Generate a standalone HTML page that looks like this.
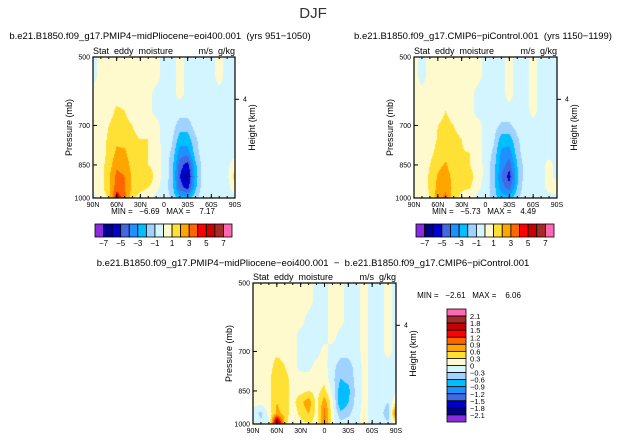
<!DOCTYPE html>
<html><head><meta charset="utf-8">
<style>
body{margin:0;background:#fff;width:627px;height:442px;overflow:hidden;font-family:"Liberation Sans",sans-serif;}
svg text{font-family:"Liberation Sans",sans-serif;fill:#000;white-space:pre;}
</style></head>
<body>
<svg id="fig" width="627" height="442" xmlns="http://www.w3.org/2000/svg">
<text x="313" y="18" font-size="15" text-anchor="middle" style="fill:#333">DJF</text>
</svg>
<script>
const lats=["90N","80N","70N","60N","50N","40N","30N","20N","10N","0","10S","20S","30S","40S","50S","60S","70S","80S","90S"];
const levels=[500,550,600,650,700,750,800,850,900,950,1000];
const latTicks=["90N","60N","30N","0","30S","60S","90S"];
const pTicks=[500,700,850,1000];
const colors=["#8a2be2","#00008b","#0000cd","#4169e1","#1e90ff","#00bfff","#a0d2ff","#d2f5ff","#fffacd","#ffe135","#ffa500","#ff6600","#ff0000","#c80000","#a52a2a","#ff69b4"];
const edgesA=[-7,-6,-5,-4,-3,-2,-1,0,1,2,3,4,5,6,7];
const edgesB=[-2.1,-1.8,-1.5,-1.2,-0.9,-0.6,-0.3,0,0.3,0.6,0.9,1.2,1.5,1.8,2.1];
const cbLabelsA=["-7","-5","-3","-1","1","3","5","7"];
const cbLabelsB=["2.1","1.8","1.5","1.2","0.9","0.6","0.3","0","-0.3","-0.6","-0.9","-1.2","-1.5","-1.8","-2.1"];
const fieldPlio=[
[-0.3,0.3,0.3,0.3,0.3,0.3,0.3,0.3,0.3,-0.3,-0.3,0.3,-0.3,-0.3,-0.3,-0.3,0.3,-0.3,-0.3],
[-0.3,0.3,0.3,0.3,0.3,0.3,0.3,0.3,0.3,-0.3,-0.3,0.3,-0.3,-0.3,-0.3,-0.3,0.3,-0.3,-0.3],
[0.3,0.3,0.3,0.5,0.5,0.3,0.3,0.3,-0.3,-0.3,-0.3,0.3,-0.3,-0.3,-0.3,-0.3,-0.3,-0.3,-0.3],
[0.3,0.3,0.5,1.2,1.0,0.5,0.3,0.3,-0.3,-0.3,-0.3,-0.5,-0.5,-0.3,-0.3,-0.3,-0.3,-0.3,-0.3],
[0.3,0.3,1.0,1.5,1.3,1.0,0.6,0.3,0.3,-0.3,-0.5,-1.5,-1.5,-0.5,-0.3,-0.3,-0.3,-0.3,-0.3],
[0.3,0.5,1.2,1.8,1.6,1.2,1.0,1.0,0.3,-0.3,-0.8,-2.5,-2.5,-1.2,-0.3,-0.3,-0.3,-0.3,-0.3],
[0.3,0.6,1.2,2.2,2.2,1.3,1.2,1.0,0.5,-0.3,-1.2,-3.5,-3.5,-1.5,-0.3,-0.3,-0.3,-0.3,-0.3],
[0.3,0.6,1.5,2.8,2.6,1.6,1.2,1.0,0.5,-0.3,-1.5,-4.5,-5.5,-2.2,-0.5,-0.3,-0.3,-0.3,0.5],
[0.3,0.6,1.8,3.3,3.0,1.8,1.2,2.0,0.5,-0.3,-1.5,-5.0,-6.5,-2.5,-0.5,-0.3,-0.3,-0.3,1.5],
[0.3,0.6,1.8,3.5,3.0,1.8,1.3,1.0,0.3,-0.5,-1.5,-4.5,-5.5,-2.2,-0.3,-0.3,-0.3,-0.3,0.5],
[-0.3,0.3,1.2,4.8,3.5,1.2,0.6,0.3,-0.3,-0.3,-1.2,-2.5,-2.5,-1.2,-0.3,-0.3,-0.3,-0.3,-0.3]];
const fieldCtrl=[
[0.3,-0.3,0.3,0.3,0.3,0.3,0.3,0.3,0.3,-0.3,-0.3,-0.3,0.3,-0.3,-0.3,0.3,-0.3,-0.3,-0.3],
[0.3,-0.3,0.3,0.3,0.3,0.3,0.3,0.3,0.3,-0.3,-0.3,-0.3,0.3,-0.3,-0.3,0.3,-0.3,-0.3,-0.3],
[0.3,0.3,0.3,0.3,0.3,0.3,0.3,0.3,-0.3,-0.3,-0.3,-0.3,0.3,-0.3,-0.3,0.3,-0.3,-0.3,-0.3],
[0.3,0.3,0.3,0.5,1.0,0.5,0.3,0.3,-0.3,-0.3,-0.3,-0.3,-0.3,-0.3,-0.3,0.3,-0.3,-0.3,-0.3],
[0.3,0.3,0.3,1.0,1.3,1.0,0.5,0.3,0.3,-0.3,-0.5,-1.2,-1.2,-0.5,-0.3,-0.3,-0.3,-0.3,-0.3],
[0.3,0.3,0.5,1.1,1.5,1.3,1.0,0.3,0.3,-0.3,-0.8,-2.5,-2.5,-1.2,-0.3,-0.3,-0.3,-0.3,-0.3],
[0.3,0.3,0.7,1.3,1.7,1.3,1.1,1.0,0.3,-0.3,-1.2,-3.2,-3.5,-1.5,-0.3,-0.3,-0.3,-0.3,-0.3],
[0.3,0.3,1.0,1.8,2.1,1.5,1.1,1.0,0.5,-0.3,-1.5,-3.5,-4.5,-2.0,-0.5,-0.3,-0.3,0.3,-0.3],
[0.3,0.3,1.2,2.1,2.4,1.7,1.2,1.5,0.5,-0.3,-1.5,-4.0,-5.5,-2.2,-0.5,-0.3,-0.3,0.3,-0.3],
[0.3,0.3,1.2,2.3,2.8,1.7,1.2,1.1,0.3,-0.5,-1.5,-3.5,-4.5,-2.0,-0.3,-0.3,-0.3,0.3,0.5],
[0.3,0.3,1.0,2.5,3.3,1.3,0.7,0.3,-0.3,-0.3,-1.5,-2.5,-2.5,-1.2,-0.3,-0.3,-0.3,-0.3,-0.3]];
const fieldDiff=[
[0.1,0.1,0.1,0.1,0.1,0.1,0.1,0.1,-0.1,-0.1,0.1,0.1,-0.1,-0.1,0.1,-0.1,-0.1,0.1,-0.1],
[0.1,0.1,0.1,0.1,0.1,0.1,0.1,0.1,-0.1,-0.1,0.1,0.1,-0.1,-0.1,0.1,-0.1,-0.1,0.1,-0.1],
[0.1,0.1,0.1,0.1,0.1,0.1,0.1,-0.1,-0.1,-0.1,0.1,0.1,-0.1,-0.1,0.1,-0.1,-0.1,0.1,-0.1],
[0.1,0.1,0.1,0.1,0.1,0.1,-0.1,-0.1,-0.1,-0.1,0.1,-0.1,-0.1,-0.1,0.1,-0.1,-0.1,0.1,-0.1],
[0.1,0.1,0.1,0.2,0.1,0.1,-0.1,-0.1,-0.1,0.1,-0.1,-0.2,-0.2,-0.1,0.1,-0.1,-0.1,0.1,-0.1],
[0.1,0.1,0.1,0.5,0.3,0.1,-0.1,-0.1,0.1,0.1,-0.2,-0.4,-0.4,-0.2,0.1,-0.1,-0.1,-0.1,-0.1],
[0.1,0.1,0.2,0.6,0.4,0.2,0.1,0.1,0.2,0.2,-0.2,-0.6,-0.5,-0.2,0.1,-0.1,-0.1,-0.1,-0.1],
[0.1,0.1,0.2,0.6,0.4,0.2,0.2,0.3,0.2,0.4,-0.1,-0.8,-0.7,-0.2,0.1,-0.1,-0.1,-0.2,-0.1],
[0.1,0.1,0.2,0.6,0.4,0.2,0.5,0.8,0.2,0.8,0.1,-0.9,-0.6,-0.2,0.1,-0.1,-0.1,-0.3,0.3],
[-0.1,-0.4,0.1,0.7,0.5,0.1,0.4,0.6,0.2,1.0,0.1,-0.5,-0.4,-0.1,0.1,-0.1,-0.1,-0.6,1.2],
[0.1,-0.2,-0.1,2.3,0.5,-0.1,0.2,0.3,0.2,0.9,0.1,-0.2,-0.1,-0.1,0.1,-0.1,-0.1,-0.2,0.1]];

const NS="http://www.w3.org/2000/svg";
const svg=document.getElementById('fig');
function mk(tag,attrs,parent){const e=document.createElementNS(NS,tag);for(const k in attrs)e.setAttribute(k,attrs[k]);(parent||svg).appendChild(e);return e;}
function txt(s,x,y,size,anchor,parent){const t=mk('text',{x:x,y:y,'font-size':size,'text-anchor':anchor||'start'},parent);t.textContent=s;return t;}
function colorFor(v,edges){let i=0;while(i<edges.length&&v>=edges[i])i++;return colors[i];}

function panel(name,field,edges,px,py,pw,ph,title,tx,ty,minmax){
  const g=mk('g',{});
  
  
  const xS=lat=>px+lat/(lats.length-1)*pw;
  const lp0=Math.log(levels[0]),lp1=Math.log(levels[levels.length-1]);
  const yS=p=>py+(Math.log(p)-lp0)/(lp1-lp0)*ph;
  const fo=mk('foreignObject',{x:px,y:py,width:pw,height:ph},g);
  const cv=document.createElement('canvas');cv.width=pw;cv.height=ph;cv.style.display='block';
  
  
  fo.appendChild(cv);
  const ctx=cv.getContext('2d');
  const lpl=levels.map(p=>(Math.log(p)-lp0)/(lp1-lp0));
  for(let yy=0;yy<ph;yy++){
    const f=(yy+0.5)/ph;
    let r=0;while(r<levels.length-2&&f>lpl[r+1])r++;
    const ty2=(f-lpl[r])/(lpl[r+1]-lpl[r]);
    for(let xx=0;xx<pw;xx++){
      const c=(xx+0.5)/pw*(lats.length-1);
      const c0=Math.min(Math.floor(c),lats.length-2),tx2=c-c0;
      const v=(field[r][c0]*(1-tx2)+field[r][c0+1]*tx2)*(1-ty2)+(field[r+1][c0]*(1-tx2)+field[r+1][c0+1]*tx2)*ty2;
      ctx.fillStyle=colorFor(v,edges);ctx.fillRect(xx,yy,1,1);
    }
  }
  mk('rect',{x:px,y:py,width:pw,height:ph,fill:'none',stroke:'#000','stroke-width':1.2},g);
  latTicks.forEach(l=>{const x=xS(lats.indexOf(l));
    mk('line',{x1:x,y1:py+ph,x2:x,y2:py+ph-4,stroke:'#000'},g);
    mk('line',{x1:x,y1:py,x2:x,y2:py+4,stroke:'#000'},g);
    const t=txt(l,x,py+ph+9,7,'middle',g);});
  for(let i=0;i<lats.length;i++){const x=xS(i);mk('line',{x1:x,y1:py+ph,x2:x,y2:py+ph-2,stroke:'#000'},g);mk('line',{x1:x,y1:py,x2:x,y2:py+2,stroke:'#000'},g);}
  pTicks.forEach(p=>{const y=yS(p);mk('line',{x1:px,y1:y,x2:px+4,y2:y,stroke:'#000'},g);
    const t=txt(String(p),px-3,y+2.5,7,'end',g);});
  const y4=py+ph*0.3;mk('line',{x1:px+pw,y1:y4,x2:px+pw+4,y2:y4,stroke:'#000'},g);
  txt('4',px+pw+8,y4+2,7,'start',g);
  const yl=txt('Pressure (mb)',0,0,9,'middle',g);yl.setAttribute('transform',`translate(${px-21},${py+ph/2}) rotate(-90)`);
  
  const hl=txt('Height (km)',0,0,9,'middle',g);hl.setAttribute('transform',`translate(${px+pw+20},${py+ph/2}) rotate(-90)`);
  
  txt('Stat  eddy  moisture',px,py-3,9,'start',g);
  txt('m/s  g/kg',px+pw,py-3,9,'end',g);
  const tt=txt(title,tx,ty,9.5,'middle',g);
  if(minmax){const m=txt(minmax[0],minmax[1],minmax[2],8,'middle',g);}
}

function hbar(name,x,y,w,h){
  const g=mk('g',{});
  const bw=w/colors.length;
  colors.forEach((c,i)=>{const r=mk('rect',{x:x+i*bw,y:y,width:bw,height:h,fill:c,stroke:'#000','stroke-width':0.8},g);
    });
  cbLabelsA.forEach((l,i)=>{txt(l.replace('-','\u2212'),x+bw*(1+2*i),y+h+9,8,'middle',g);});
}
function vbar(name,x,y,w,h){
  const g=mk('g',{});
  const bh=h/colors.length;
  colors.slice().reverse().forEach((c,i)=>{const r=mk('rect',{x:x,y:y+i*bh,width:w,height:bh,fill:c,stroke:'#000','stroke-width':0.8},g);
    });
  cbLabelsB.forEach((l,i)=>{txt(l.replace('-','\u2212'),x+w+4,y+bh*(1+i)+3,7.5,'start',g);});
}

panel('panel-midpliocene',fieldPlio,edgesA,93,57,142,141,'b.e21.B1850.f09_g17.PMIP4\u2212midPliocene\u2212eoi400.001  (yrs 951\u22121050)',160,39,['MIN =   \u22126.69   MAX =    7.17',163,214]);
panel('panel-picontrol',fieldCtrl,edgesA,414,57,143,141,'b.e21.B1850.f09_g17.CMIP6\u2212piControl.001  (yrs 1150\u22121199)',483,39,['MIN =   \u22125.73   MAX =    4.49',484,214]);
panel('panel-difference',fieldDiff,edgesB,253,283,143,141,'b.e21.B1850.f09_g17.PMIP4\u2212midPliocene\u2212eoi400.001  \u2212  b.e21.B1850.f09_g17.CMIP6\u2212piControl.001',313,266,['MIN =   \u22122.61   MAX =    6.06',469,298]);
hbar('colorbar-midpliocene',95,224,137,13);
hbar('colorbar-picontrol',416,224,138,13);
vbar('colorbar-difference',447,309,19,113);
</script>
</body></html>
